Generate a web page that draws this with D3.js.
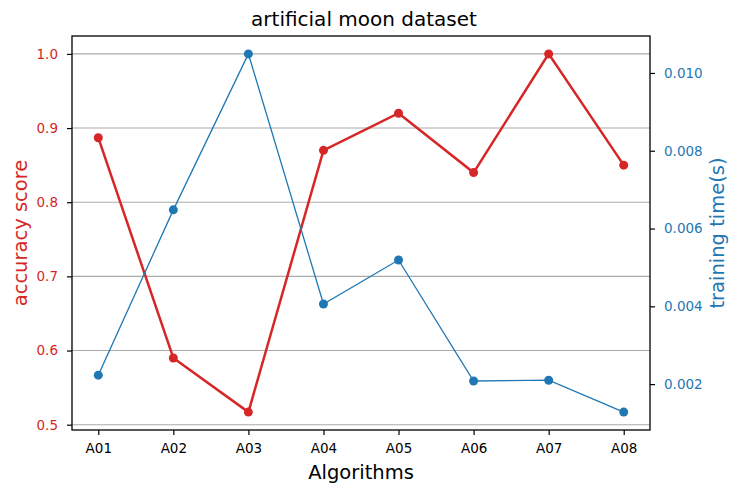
<!DOCTYPE html>
<html>
<head>
<meta charset="utf-8">
<script src="https://cdn.jsdelivr.net/npm/d3@7"></script>
<style>
  body { margin: 0; background: #fff; }
  text { font-family: "DejaVu Sans", sans-serif; }
</style>
</head>
<body>
<div id="chart"></div>
<script>
// chart data
const algorithms = ['A01', 'A02', 'A03', 'A04', 'A05', 'A06', 'A07', 'A08'];
const accuracy = [0.887, 0.590, 0.517, 0.870, 0.920, 0.840, 1.000, 0.850];
const trainTime = [0.00223, 0.00648, 0.01049, 0.00406, 0.00519, 0.00208, 0.00210, 0.00128];
const accTicks = [0.5, 0.6, 0.7, 0.8, 0.9, 1.0];
const timeTicks = [0.002, 0.004, 0.006, 0.008, 0.010];

const RED = '#d62728';
const BLUE = '#1f77b4';
const W = 747, H = 495;
const plot = { left: 72, right: 650, top: 36, bottom: 430 };
const TICK_FONT = 13.5;
const LABEL_FONT = 19.5;

const svg = d3.select('#chart').append('svg')
  .attr('width', W)
  .attr('height', H);

// x is a linear scale over category index, with matplotlib-like margins
const x = d3.scaleLinear()
  .domain([-0.35, algorithms.length - 1 + 0.35])
  .range([plot.left, plot.right]);

function padded(vals) {
  const lo = d3.min(vals), hi = d3.max(vals);
  const m = (hi - lo) * 0.05;
  return [lo - m, hi + m];
}

const yAcc = d3.scaleLinear().domain(padded(accuracy)).range([plot.bottom, plot.top]);
const yTime = d3.scaleLinear().domain(padded(trainTime)).range([plot.bottom, plot.top]);

// grid lines on the accuracy ticks
svg.append('g')
  .selectAll('line')
  .data(accTicks)
  .enter().append('line')
  .attr('x1', plot.left).attr('x2', plot.right)
  .attr('y1', (d) => yAcc(d)).attr('y2', (d) => yAcc(d))
  .attr('stroke', '#aaaaaa')
  .attr('stroke-width', 1.1);

// accuracy line
const accLine = d3.line()
  .x((d, i) => x(i))
  .y((d) => yAcc(d));

svg.append('path')
  .datum(accuracy)
  .attr('d', accLine)
  .attr('fill', 'none')
  .attr('stroke', RED)
  .attr('stroke-width', 2.5);

svg.append('g')
  .selectAll('circle')
  .data(accuracy)
  .enter().append('circle')
  .attr('cx', (d, i) => x(i))
  .attr('cy', (d) => yAcc(d))
  .attr('r', 4.5)
  .attr('fill', RED);

// training time line (twin axis, drawn on top)
const timeLine = d3.line()
  .x((d, i) => x(i))
  .y((d) => yTime(d));

svg.append('path')
  .datum(trainTime)
  .attr('d', timeLine)
  .attr('fill', 'none')
  .attr('stroke', BLUE)
  .attr('stroke-width', 1.3);

svg.append('g')
  .selectAll('circle')
  .data(trainTime)
  .enter().append('circle')
  .attr('cx', (d, i) => x(i))
  .attr('cy', (d) => yTime(d))
  .attr('r', 4.5)
  .attr('fill', BLUE);

// axes
function styleAxis(g, color) {
  g.select('.domain').remove();
  g.attr('font-family', null).attr('font-size', null);
  g.selectAll('text')
    .attr('font-size', TICK_FONT)
    .attr('fill', color)
    .style('font-family', '"DejaVu Sans", sans-serif');
  g.selectAll('line').attr('stroke', '#000').attr('stroke-width', 1.2);
}

const xAxis = d3.axisBottom(x)
  .tickValues(d3.range(algorithms.length))
  .tickFormat((i) => algorithms[i])
  .tickSize(5)
  .tickPadding(8);

const gx = svg.append('g')
  .attr('transform', 'translate(0,' + plot.bottom + ')')
  .call(xAxis);
styleAxis(gx, '#000');

const yLeft = d3.axisLeft(yAcc)
  .tickValues(accTicks)
  .tickFormat(d3.format('.1f'))
  .tickSize(5)
  .tickPadding(9);

const gl = svg.append('g')
  .attr('transform', 'translate(' + plot.left + ',0)')
  .call(yLeft);
styleAxis(gl, RED);

const yRight = d3.axisRight(yTime)
  .tickValues(timeTicks)
  .tickFormat(d3.format('.3f'))
  .tickSize(5)
  .tickPadding(9);

const gr = svg.append('g')
  .attr('transform', 'translate(' + plot.right + ',0)')
  .call(yRight);
styleAxis(gr, BLUE);

// frame
svg.append('rect')
  .attr('x', plot.left).attr('y', plot.top)
  .attr('width', plot.right - plot.left)
  .attr('height', plot.bottom - plot.top)
  .attr('fill', 'none')
  .attr('stroke', '#000')
  .attr('stroke-width', 1.3);

// titles and labels
svg.append('text')
  .attr('x', (plot.left + plot.right) / 2 + 3)
  .attr('y', 26)
  .attr('text-anchor', 'middle')
  .attr('font-size', 20)
  .text('artificial moon dataset');

svg.append('text')
  .attr('x', (plot.left + plot.right) / 2)
  .attr('y', 479)
  .attr('text-anchor', 'middle')
  .attr('font-size', LABEL_FONT)
  .text('Algorithms');

svg.append('text')
  .attr('transform', 'translate(27,' + (plot.top + plot.bottom) / 2 + ') rotate(-90)')
  .attr('text-anchor', 'middle')
  .attr('font-size', LABEL_FONT)
  .attr('fill', RED)
  .text('accuracy score');

svg.append('text')
  .attr('transform', 'translate(724,' + (plot.top + plot.bottom) / 2 + ') rotate(-90)')
  .attr('text-anchor', 'middle')
  .attr('font-size', LABEL_FONT)
  .attr('fill', BLUE)
  .text('training time(s)');
</script>
</body>
</html>
